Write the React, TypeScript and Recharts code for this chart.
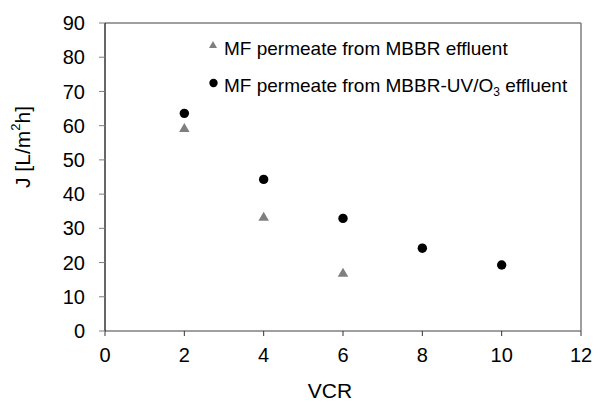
import React from 'react';
import { ScatterChart, Scatter, XAxis, YAxis, ReferenceLine } from 'recharts';

const mbbrVcr = [2, 4, 6];
const mbbrFlux = [59.3, 33.4, 17.0];
const uvVcr = [2, 4, 6, 8, 10];
const uvFlux = [63.6, 44.3, 32.9, 24.2, 19.3];
const xTicks = [0, 2, 4, 6, 8, 10, 12];
const yTicks = [0, 10, 20, 30, 40, 50, 60, 70, 80, 90];
const seriesNames = ['MF permeate from MBBR effluent', 'MF permeate from MBBR-UV/O'];

const mbbrData = mbbrVcr.map((x, i) => ({ x, y: mbbrFlux[i] }));
const uvData = uvVcr.map((x, i) => ({ x, y: uvFlux[i] }));

const FONT = '"Liberation Sans", Arial, sans-serif';
const GRAY = '#7f7f7f';

const Triangle = (props: any) => {
  const { cx, cy } = props;
  const s = 5;
  return <path d={`M${cx},${cy - s} L${cx + s * 1.05},${cy + s * 0.8} L${cx - s * 1.05},${cy + s * 0.8} Z`} fill={GRAY} />;
};
const Dot = (props: any) => {
  const { cx, cy } = props;
  return <circle cx={cx} cy={cy} r={4.7} fill="#000" />;
};

const LegendOverlay = () => (
  <svg width={595} height={402} style={{ position: 'absolute', left: 0, top: 0, pointerEvents: 'none' }}>
    <path d="M213,41 L217,48 L209,48 Z" fill={GRAY} />
    <text x={224} y={55} fontFamily={FONT} fontSize={19} fill="#000">{seriesNames[0]}</text>
    <circle cx={213.5} cy={83} r={4.2} fill="#000" />
    <text x={224} y={92} fontFamily={FONT} fontSize={19} fill="#000">
      {seriesNames[1]}
      <tspan fontSize={12} dy={4}>3</tspan>
      <tspan dy={-4}> effluent</tspan>
    </text>
  </svg>
);

const YLabel = () => {
  const x = 22;
  const y = 147;
  return (
    <text x={x} y={y} transform={`rotate(-90 ${x} ${y})`} textAnchor="middle" dominantBaseline="central" fontFamily={FONT} fontSize={21} fill="#000">
      J [L/m<tspan fontSize={13} dy={-7}>2</tspan><tspan dy={7}>h]</tspan>
    </text>
  );
};

const XLabel = (props: any) => {
  const vb = props.viewBox || {};
  const cx = vb.x + vb.width / 2 - 13;
  return (
    <text x={cx} y={398} textAnchor="middle" fontFamily={FONT} fontSize={21} fill="#000">
      VCR
    </text>
  );
};

export default function App() {
  return (
    <div style={{ position: 'absolute', left: 0, top: 0, width: 595, height: 402, background: '#fff' }}>
      <ScatterChart width={595} height={402} margin={{ top: 23, right: 14, bottom: 0, left: 0 }}>
        <XAxis
          type="number"
          dataKey="x"
          domain={[0, 12]}
          ticks={xTicks}
          interval={0}
          height={71}
          axisLine={{ stroke: GRAY, strokeWidth: 1.5 }}
          tickLine={{ stroke: '#333' }}
          tickSize={5}
          tickMargin={12}
          tick={{ fontFamily: FONT, fontSize: 20, fill: '#000' }}
          label={<XLabel />}
        />
        <YAxis
          type="number"
          dataKey="y"
          domain={[0, 90]}
          ticks={yTicks}
          interval={0}
          width={105}
          axisLine={{ stroke: '#000', strokeWidth: 1.2 }}
          tickLine={{ stroke: GRAY }}
          tickSize={6}
          tickMargin={14}
          tick={{ fontFamily: FONT, fontSize: 20, fill: '#000' }}
          label={<YLabel />}
        />
        <ReferenceLine y={90} stroke={GRAY} strokeWidth={1.5} ifOverflow="visible" />
        <ReferenceLine x={12} stroke={GRAY} strokeWidth={1.5} ifOverflow="visible" />
        <Scatter name={seriesNames[0]} data={mbbrData} shape={<Triangle />} isAnimationActive={false} />
        <Scatter name={seriesNames[1] + '3 effluent'} data={uvData} shape={<Dot />} isAnimationActive={false} />
      </ScatterChart>
      <LegendOverlay />
    </div>
  );
}
